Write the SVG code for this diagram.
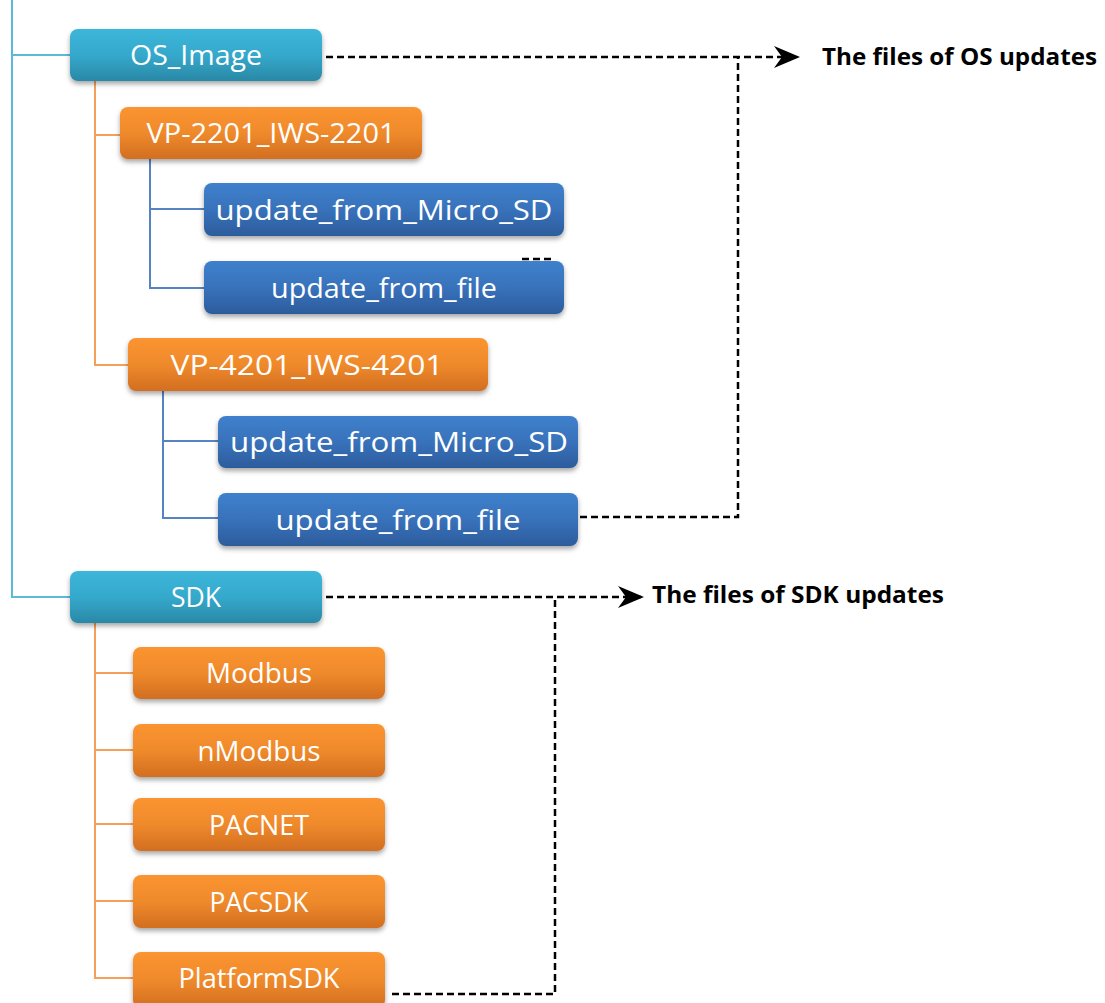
<svg xmlns="http://www.w3.org/2000/svg" width="1105" height="1003" viewBox="0 0 1105 1003">
<defs>
<linearGradient id="gTeal" x1="0" y1="0" x2="0" y2="1"><stop offset="0" stop-color="#3cb6da"/><stop offset="0.5" stop-color="#35a9cc"/><stop offset="1" stop-color="#2a88a6"/></linearGradient>
<linearGradient id="gOrange" x1="0" y1="0" x2="0" y2="1"><stop offset="0" stop-color="#fb9430"/><stop offset="0.5" stop-color="#ef8a2c"/><stop offset="1" stop-color="#d26e20"/></linearGradient>
<linearGradient id="gBlue" x1="0" y1="0" x2="0" y2="1"><stop offset="0" stop-color="#3f80cc"/><stop offset="0.5" stop-color="#3872bb"/><stop offset="1" stop-color="#2c5c9c"/></linearGradient>
<filter id="sh" x="-10%" y="-20%" width="120%" height="150%"><feDropShadow dx="0" dy="3" stdDeviation="2.5" flood-color="#000" flood-opacity="0.35"/></filter>
<marker id="arr" markerWidth="26" markerHeight="22" refX="24" refY="11" orient="auto" markerUnits="userSpaceOnUse"><path d="M0,0 L26,11 L0,22 L8,11 Z" fill="#000"/></marker>
</defs>
<style>
.box{filter:url(#sh)}
.teal{fill:url(#gTeal)}
.orange{fill:url(#gOrange)}
.blue{fill:url(#gBlue)}
.lbl{font-family:"Open Sans","Liberation Sans",sans-serif;font-size:28px;fill:#fff;text-anchor:middle}
.note{font-family:"Open Sans","Liberation Sans",sans-serif;font-size:23px;font-weight:bold;fill:#000}
.lt{stroke:#5cb9da;stroke-width:2;fill:none}
.lo{stroke:#f5a05a;stroke-width:2;fill:none}
.lb{stroke:#5683c2;stroke-width:2;fill:none}
.dash{stroke:#000;stroke-width:2.5;stroke-dasharray:7 4;fill:none}
</style>
<g id="connectors">
<path class="lt" d="M12,0 V597 H70 M12,55 H70"/>
<path class="lo" d="M95,81 V365 H128 M95,135 H120"/>
<path class="lb" d="M150,159 V288 H204 M150,209 H204"/>
<path class="lb" d="M163,391 V518 H218 M163,441 H218"/>
<path class="lo" d="M95,623 V978 H133 M95,673 H133 M95,750 H133 M95,824 H133 M95,901 H133"/>
<path class="dash" d="M326,57 H798" marker-end="url(#arr)"/>
<path class="dash" d="M580,517 H738 V57"/>
<path class="dash" d="M326,597 H642" marker-end="url(#arr)"/>
<path class="dash" d="M392,994 H555 V597"/>
<path class="dash" d="M522,259 H552"/>
</g>
<g id="os_image"><rect class="box teal" x="70" y="29" width="252" height="52" rx="8"/><text class="lbl" x="196" y="65" textLength="132" lengthAdjust="spacingAndGlyphs">OS_Image</text></g>
<g id="vp2201"><rect class="box orange" x="120" y="107" width="302" height="52" rx="8"/><text class="lbl" x="271" y="143" textLength="249" lengthAdjust="spacingAndGlyphs">VP-2201_IWS-2201</text></g>
<g id="msd1"><rect class="box blue" x="204" y="183" width="360" height="53" rx="8"/><text class="lbl" x="384" y="220" textLength="337" lengthAdjust="spacingAndGlyphs">update_from_Micro_SD</text></g>
<g id="uff1"><rect class="box blue" x="204" y="261" width="360" height="53" rx="8"/><text class="lbl" x="384" y="298" textLength="226" lengthAdjust="spacingAndGlyphs">update_from_file</text></g>
<g id="vp4201"><rect class="box orange" x="128" y="338" width="360" height="53" rx="8"/><text class="lbl" x="307" y="375" textLength="273" lengthAdjust="spacingAndGlyphs">VP-4201_IWS-4201</text></g>
<g id="msd2"><rect class="box blue" x="218" y="416" width="360" height="52" rx="8"/><text class="lbl" x="399" y="452" textLength="338" lengthAdjust="spacingAndGlyphs">update_from_Micro_SD</text></g>
<g id="uff2"><rect class="box blue" x="218" y="493" width="360" height="53" rx="8"/><text class="lbl" x="398" y="530" textLength="245" lengthAdjust="spacingAndGlyphs">update_from_file</text></g>
<g id="sdk"><rect class="box teal" x="70" y="571" width="252" height="52" rx="8"/><text class="lbl" x="196" y="607" textLength="50" lengthAdjust="spacingAndGlyphs">SDK</text></g>
<g id="modbus"><rect class="box orange" x="133" y="647" width="252" height="52" rx="8"/><text class="lbl" x="259" y="683" textLength="106" lengthAdjust="spacingAndGlyphs">Modbus</text></g>
<g id="nmodbus"><rect class="box orange" x="133" y="724" width="252" height="53" rx="8"/><text class="lbl" x="259" y="761" textLength="123" lengthAdjust="spacingAndGlyphs">nModbus</text></g>
<g id="pacnet"><rect class="box orange" x="133" y="798" width="252" height="53" rx="8"/><text class="lbl" x="259" y="835" textLength="100" lengthAdjust="spacingAndGlyphs">PACNET</text></g>
<g id="pacsdk"><rect class="box orange" x="133" y="875" width="252" height="53" rx="8"/><text class="lbl" x="259" y="912" textLength="99" lengthAdjust="spacingAndGlyphs">PACSDK</text></g>
<g id="platformsdk"><rect class="box orange" x="133" y="952" width="252" height="56" rx="8"/><text class="lbl" x="259" y="988" textLength="161" lengthAdjust="spacingAndGlyphs">PlatformSDK</text></g>
<g id="notes">
<text class="note" x="822" y="65" textLength="275" lengthAdjust="spacingAndGlyphs">The files of OS updates</text>
<text class="note" x="652" y="603" textLength="292" lengthAdjust="spacingAndGlyphs">The files of SDK updates</text>
</g>
</svg>
